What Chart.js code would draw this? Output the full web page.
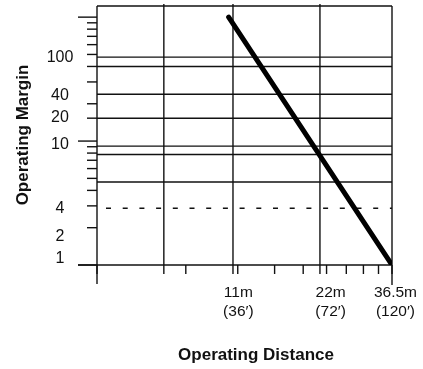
<!DOCTYPE html>
<html>
<head>
<meta charset="utf-8">
<script src="https://cdn.jsdelivr.net/npm/chart.js@4"></script>
<style>
  html, body { margin: 0; padding: 0; background: #fff; }
</style>
</head>
<body>
<canvas id="chartLine" width="423" height="369"></canvas>
<script>
// data (log-log, distance in m)
const distances = [10.2, 36.5];
const margins = [100, 1];

// x axis: one log decade 3.65 m .. 36.5 m
const xMin = 3.65;
const xMax = 36.5;
const xMinorTicks = [3.65, 7.3, 10.95, 14.6, 18.25, 21.9, 25.55, 29.2, 32.85, 36.5];
const xGridLines = [6.15, 10.55, 20.8];
const xLabels = [["11m", "(36\u2032)"], ["22m", "(72\u2032)"], ["36.5m", "(120\u2032)"]];
const xLabelAt = [11, 22.6, 37.5];

// y axis: margin 1 .. ~123
const yMin = 1;
const yMax = 123;
const yMinorTicks = [1, 2, 3, 4, 5, 6, 7, 8, 9, 10, 20, 30, 40, 50, 60, 70, 80, 90, 100];
const yDecades = [1, 10, 100];
const yGridLines = [47.6, 40, 23.9, 15.3, 9.1, 7.8, 4.67];
const yDashed = 2.87;
const yLabels = ["100", "40", "20", "10", "4", "2", "1"];
const yLabelAt = [47.5, 23.3, 15.4, 9.4, 2.87, 1.71, 1.13];

const lineCol = "#111";

// draws the frame, ticks, grid and texts from the scales
const gridPlugin = {
  id: "gridPlugin",
  beforeDatasetsDraw(chart) {
    const ctx = chart.ctx;
    const X = v => chart.scales.x.getPixelForValue(v);
    const Y = v => chart.scales.y.getPixelForValue(v);
    const left = X(xMin), right = X(xMax), top = Y(yMax), bottom = Y(yMin);

    ctx.save();
    ctx.strokeStyle = lineCol;
    ctx.lineWidth = 1.4;
    const seg = (x1, y1, x2, y2) => {
      ctx.beginPath();
      ctx.moveTo(x1, y1);
      ctx.lineTo(x2, y2);
      ctx.stroke();
    };

    // horizontal grid
    yGridLines.forEach(v => seg(left, Y(v), right, Y(v)));
    // vertical grid, running a bit past the frame
    xGridLines.forEach(v => seg(X(v), top - 2, X(v), bottom + 9));

    // frame
    seg(left, top, right, top);
    seg(right, top, right, bottom + 20);
    seg(left, top, left, bottom + 19);
    seg(left - 19, bottom, right, bottom);

    // y ticks
    yMinorTicks.forEach(v => {
      const len = yDecades.includes(v) ? 19 : 10;
      seg(left - len, Y(v), left, Y(v));
    });
    seg(left - 10, Y(15.3), left, Y(15.3));

    // x ticks
    xMinorTicks.forEach(v => seg(X(v), bottom, X(v), bottom + 9));

    // dashed line
    ctx.setLineDash([5, 11.7]);
    seg(left + 9, Y(yDashed), right, Y(yDashed));
    ctx.setLineDash([]);
    ctx.restore();
  },
  afterDraw(chart) {
    const ctx = chart.ctx;
    const X = v => chart.scales.x.getPixelForValue(v);
    const Y = v => chart.scales.y.getPixelForValue(v);
    ctx.save();
    ctx.fillStyle = "#111";
    ctx.textAlign = "center";
    ctx.textBaseline = "middle";

    ctx.font = '16px "Liberation Sans", Arial, sans-serif';
    yLabels.forEach((t, i) => ctx.fillText(t, 60, Y(yLabelAt[i])));
    ctx.font = '15.5px "Liberation Sans", Arial, sans-serif';
    xLabels.forEach((lines, i) => {
      ctx.fillText(lines[0], X(xLabelAt[i]), 293);
      ctx.fillText(lines[1], X(xLabelAt[i]), 312);
    });

    ctx.font = 'bold 17px "Liberation Sans", Arial, sans-serif';
    ctx.fillText("Operating Distance", 256, 355);
    ctx.translate(23, 135);
    ctx.rotate(-Math.PI / 2);
    ctx.fillText("Operating Margin", 0, 0);
    ctx.restore();
  }
};

const dataLine = {
  datasets: [
    {
      label: "Operating Margin",
      data: distances.map((d, i) => ({ x: d, y: margins[i] })),
      borderColor: "#000",
      borderWidth: 5,
      borderCapStyle: "round",
      pointRadius: 0,
      fill: false,
    },
  ],
};

const configLine = {
  type: "line",
  data: dataLine,
  options: {
    responsive: false,
    devicePixelRatio: 1,
    animation: false,
    layout: { padding: { left: 97, top: 6, right: 31, bottom: 104 } },
    plugins: { legend: { display: false }, tooltip: { enabled: false } },
    scales: {
      x: { type: "logarithmic", min: xMin, max: xMax, display: false },
      y: { type: "logarithmic", min: yMin, max: yMax, display: false },
    },
  },
  plugins: [gridPlugin],
};

var chartLine = new Chart(document.getElementById("chartLine"), configLine);
</script>
</body>
</html>
